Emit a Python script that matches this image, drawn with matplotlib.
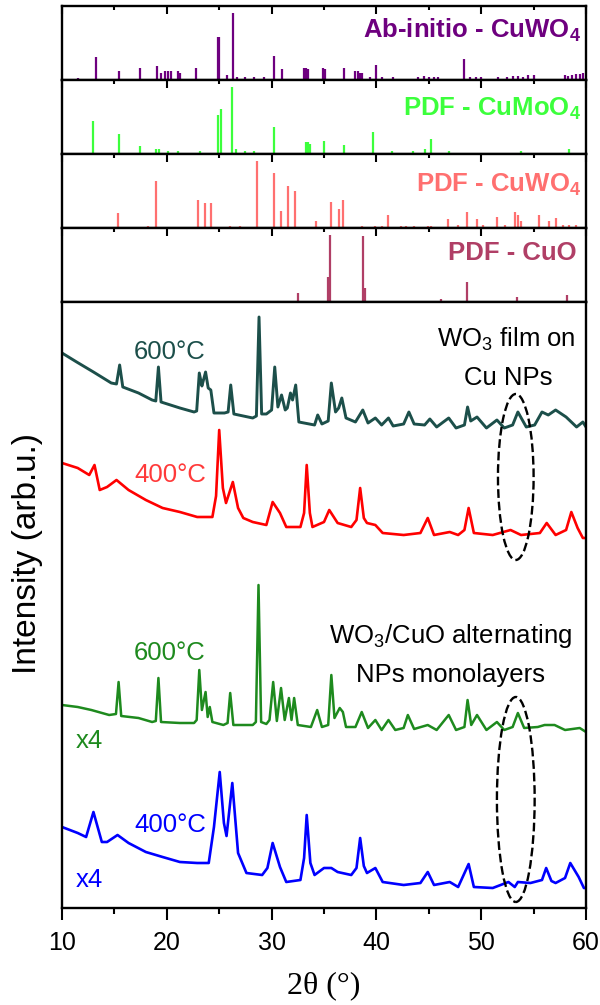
import matplotlib
matplotlib.use('Agg')
import matplotlib.pyplot as plt
from matplotlib.patches import Ellipse
from matplotlib.ticker import MultipleLocator

plt.rcParams['font.family'] = ['Liberation Sans', 'DejaVu Sans']
plt.rcParams['mathtext.fontset'] = 'custom'
plt.rcParams['mathtext.rm'] = 'Liberation Sans'
plt.rcParams['mathtext.it'] = 'Liberation Sans:italic'
plt.rcParams['mathtext.bf'] = 'Liberation Sans:bold'

# Reference stick patterns (2theta, relative intensity)
abinitio_pos = [11.5, 13.2, 15.4, 17.4, 19.1, 19.4, 19.8, 20.1, 20.4, 21.1, 21.3, 22.8,
                24.85, 25.0, 25.7, 26.3, 26.7, 27.5, 28.3, 29.3, 30.2, 31.0, 33.1, 33.3,
                33.5, 34.9, 35.1, 36.9, 38.0, 38.2, 38.4, 38.6, 39.4, 40.0, 40.5, 41.6,
                44.0, 44.5, 45.0, 45.5, 45.9, 48.4, 48.9, 49.5, 50.0, 51.6, 52.5, 53.0,
                53.5, 54.0, 54.5, 55.0, 58.0, 58.3, 58.7, 59.0, 59.4, 59.7]
abinitio_int = [3, 34, 13, 18, 21, 10, 13, 13, 13, 13, 10, 18,
                64, 64, 8, 100, 5, 5, 5, 5, 36, 16, 18, 18,
                16, 18, 16, 18, 13, 13, 11, 10, 5, 23, 5, 4,
                5, 6, 5, 5, 5, 31, 5, 5, 4, 5, 5, 6,
                6, 5, 7, 7, 8, 6, 8, 9, 9, 10]

cumoo4_pos = [13.0, 15.4, 17.4, 19.0, 19.3, 20.1, 21.1, 23.2, 24.9, 25.15, 26.2, 26.6,
              27.5, 28.3, 30.2, 33.3, 33.5, 33.7, 35.0, 36.9, 39.7, 41.5, 43.5, 44.6,
              45.25, 46.9, 53.8, 58.4]
cumoo4_int = [49, 29, 12, 7, 7, 5, 5, 4, 58, 67, 100, 7,
              4, 4, 40, 18, 18, 15, 20, 13, 32, 4, 4, 7,
              22, 4, 4, 7]

cuwo4_pos = [15.3, 18.2, 19.0, 23.0, 23.6, 24.2, 26.0, 27.0, 28.65, 30.2, 30.9, 31.6,
             32.2, 34.2, 35.7, 36.4, 36.8, 38.6, 39.9, 40.5, 41.1, 42.3, 42.8, 43.6,
             44.9, 45.2, 46.8, 47.8, 48.6, 49.6, 50.2, 51.5, 52.3, 53.2, 53.5, 53.8,
             55.5, 56.5, 57.1, 57.8, 58.4, 59.0]
cuwo4_int = [23, 3, 70, 41, 37, 37, 3, 3, 100, 82, 26, 62,
             55, 11, 38, 28, 41, 3, 3, 3, 19, 3, 3, 3,
             3, 3, 13, 5, 24, 13, 5, 16, 5, 24, 20, 10,
             19, 10, 15, 5, 5, 5]

cuo_pos = [32.5, 35.4, 35.55, 38.7, 38.9, 46.2, 48.65, 51.3, 53.4, 56.7, 58.2]
cuo_int = [14, 37, 100, 98, 21, 4, 30, 2, 7, 2, 10]

# Measured patterns (2theta, intensity incl. stacking offset)
film600_x = [10.0, 11.4, 13.0, 14.7, 15.2, 15.5, 15.8, 17.3, 18.6, 18.95, 19.2, 19.45,
             21.25, 22.6, 22.85, 23.1, 23.35, 23.45, 23.7, 23.95, 24.2, 24.5, 25.5, 25.85,
             26.1, 26.4, 28.2, 28.55, 28.8, 29.05, 29.5, 30.0, 30.3, 30.6, 30.95, 31.3,
             31.5, 31.8, 32.0, 32.3, 32.6, 34.1, 34.4, 34.8, 35.4, 35.7, 36.1, 36.4,
             36.7, 37.1, 38.0, 38.7, 39.2, 39.9, 40.5, 41.15, 41.6, 42.6, 43.1, 43.6,
             44.6, 45.1, 45.75, 46.9, 47.6, 48.4, 48.7, 49.0, 49.6, 50.5, 51.5, 52.2,
             53.0, 53.5, 54.3, 55.1, 55.8, 56.4, 57.1, 58.1, 59.1, 59.7, 60.0]
film600_y = [555, 546, 536, 525, 524, 543, 521, 515, 508, 507, 541, 506,
             500, 496, 497, 535, 522, 526, 536, 520, 518, 495, 495, 496,
             523, 494, 490, 492, 591, 494, 494, 498, 541, 501, 513, 498,
             500, 515, 508, 523, 486, 483, 493, 484, 487, 525, 496, 500,
             510, 490, 486, 498, 485, 490, 483, 490, 482, 484, 496, 484,
             483, 489, 481, 490, 480, 483, 501, 487, 491, 480, 488, 480,
             483, 496, 481, 483, 496, 493, 498, 491, 481, 486, 481]

film400_x = [10.0, 11.5, 12.6, 13.1, 13.6, 14.3, 15.2, 16.35, 18.0, 19.6, 21.25, 22.9,
             24.35, 24.7, 25.0, 25.35, 25.65, 26.3, 26.8, 27.3, 28.2, 29.5, 30.1, 30.8,
             31.4, 32.75, 33.1, 33.35, 33.65, 33.9, 35.0, 35.5, 36.3, 37.6, 38.1, 38.45,
             38.8, 39.1, 39.9, 40.6, 42.6, 44.2, 44.9, 45.5, 47.0, 47.8, 48.4, 48.8,
             49.3, 51.1, 52.8, 53.8, 55.6, 56.25, 57.1, 58.1, 58.6, 59.2, 59.7, 60.0]
film400_y = [445, 440, 433, 443, 418, 421, 428, 418, 408, 400, 396, 391,
             391, 412, 478, 420, 405, 426, 400, 390, 386, 383, 406, 395,
             381, 381, 395, 443, 395, 381, 386, 398, 385, 381, 388, 420,
             390, 385, 383, 375, 373, 375, 390, 373, 376, 373, 378, 400,
             375, 373, 378, 373, 375, 385, 373, 378, 396, 380, 370, 370]

np600_x = [10.0, 11.5, 12.8, 14.5, 15.15, 15.4, 15.65, 17.3, 18.6, 18.95, 19.2, 19.45,
           21.25, 22.6, 22.85, 23.1, 23.35, 23.7, 23.9, 24.1, 24.35, 25.4, 25.8, 26.05,
           26.35, 28.2, 28.5, 28.75, 29.0, 29.5, 29.8, 30.15, 30.5, 30.9, 31.25, 31.65,
           31.9, 32.15, 32.5, 33.75, 34.35, 34.8, 35.4, 35.7, 36.0, 36.5, 36.8, 37.1,
           38.0, 38.6, 39.2, 39.9, 40.5, 41.15, 41.8, 42.6, 43.0, 43.6, 44.9, 45.75,
           46.9, 47.6, 48.4, 48.7, 49.05, 49.6, 50.5, 51.5, 52.2, 53.0, 53.5, 54.1,
           55.4, 56.05, 57.0, 58.0, 59.4, 60.0]
np600_y = [203, 201, 198, 193, 194, 226, 192, 190, 186, 187, 230, 186,
           185, 185, 188, 238, 198, 216, 191, 201, 186, 183, 185, 215,
           183, 183, 186, 323, 186, 184, 188, 226, 187, 220, 188, 210,
           188, 210, 183, 181, 198, 181, 183, 233, 190, 200, 196, 181,
           181, 196, 180, 188, 178, 188, 178, 180, 193, 179, 183, 178,
           193, 178, 181, 208, 183, 193, 178, 186, 178, 181, 195, 180,
           181, 183, 183, 178, 180, 176]

np400_x = [10.0, 11.5, 12.3, 13.0, 13.8, 14.3, 15.3, 16.35, 18.0, 19.6, 21.25, 22.9,
           24.0, 24.5, 25.05, 25.45, 25.7, 26.25, 26.8, 27.6, 29.1, 29.6, 30.1, 30.8,
           31.4, 32.75, 33.1, 33.35, 33.7, 34.1, 35.0, 35.7, 36.3, 37.6, 38.1, 38.45,
           38.8, 39.1, 39.9, 40.6, 42.6, 44.2, 44.9, 45.5, 47.0, 47.8, 48.8, 49.3,
           51.1, 52.6, 53.2, 53.5, 54.7, 55.8, 56.2, 56.7, 57.1, 58.0, 58.5, 59.3,
           59.8, 60.0]
np400_y = [81, 75, 71, 96, 66, 66, 73, 65, 56, 51, 46, 45,
           45, 81, 136, 85, 72, 125, 55, 35, 33, 40, 65, 41,
           26, 28, 50, 93, 45, 33, 40, 40, 36, 33, 40, 70,
           42, 35, 40, 26, 23, 25, 36, 23, 26, 21, 44, 21,
           20, 26, 21, 26, 25, 28, 40, 27, 25, 30, 45, 31,
           20, 20]

fig = plt.figure(figsize=(6, 10.05), dpi=100)
H = 1005.0
left = 62 / 600.0
width = 524 / 600.0
frame_lw = 1.7

# Stick panels, stacked on top
panels = [
    (abinitio_pos, abinitio_int, '#6E007F', r'Ab-initio - CuWO$_\mathbf{4}$', 0.575, 0.99),
    (cumoo4_pos, cumoo4_int, '#3CFF3C', r'PDF - CuMoO$_\mathbf{4}$', 0.51, 0.99),
    (cuwo4_pos, cuwo4_int, '#FF7070', r'PDF - CuWO$_\mathbf{4}$', 0.49, 0.99),
    (cuo_pos, cuo_int, '#B03F66', 'PDF - CuO', 0.57, 0.983),
]
edges = [6, 80, 154, 228, 302]
for i, (pos, inten, color, label, ty, tx) in enumerate(panels):
    top, bot = edges[i], edges[i + 1]
    ax = fig.add_axes([left, 1 - bot / H, width, (bot - top) / H])
    ax.vlines(pos, 0, inten, color=color, lw=1.6)
    ax.set_xlim(10, 60)
    ax.set_ylim(0, 110)
    ax.set_yticks([])
    ax.xaxis.set_major_locator(MultipleLocator(10))
    ax.xaxis.set_minor_locator(MultipleLocator(5))
    ax.tick_params(axis='x', which='both', direction='in', top=True, bottom=False,
                   labelbottom=False, width=1.5)
    ax.tick_params(axis='x', which='major', length=6)
    ax.tick_params(axis='x', which='minor', length=3)
    for sp in ax.spines.values():
        sp.set_linewidth(frame_lw)
    ax.text(tx, ty, label, transform=ax.transAxes, ha='right', va='baseline',
            color=color, fontsize=18.5, fontweight='bold')

# Main panel with measured patterns
ax = fig.add_axes([left, 1 - 908 / H, width, 606 / H])
ax.plot(film600_x, film600_y, color='#1C4F4A', lw=2.1)
ax.plot(film400_x, film400_y, color='#FF0000', lw=1.9)
ax.plot(np600_x, np600_y, color='#1E8A1E', lw=1.8)
ax.plot(np400_x, np400_y, color='#0000FF', lw=1.9)
ax.set_xlim(10, 60)
ax.set_ylim(0, 606)
ax.set_yticks([])
ax.xaxis.set_major_locator(MultipleLocator(10))
ax.xaxis.set_minor_locator(MultipleLocator(5))
ax.tick_params(axis='x', which='both', direction='out', width=1.5, labelsize=18, pad=8)
ax.tick_params(axis='x', which='major', length=8.5)
ax.tick_params(axis='x', which='minor', length=4)
for sp in ax.spines.values():
    sp.set_linewidth(frame_lw)

# Curve labels
fs = 18.5
ax.text(23.74, 549, '600°C', color='#1C4F4A', fontsize=fs, ha='right', va='baseline')
ax.text(23.74, 426, '400°C', color='#FF3A3A', fontsize=fs, ha='right', va='baseline')
ax.text(23.74, 248, '600°C', color='#1E8A1E', fontsize=fs, ha='right', va='baseline')
ax.text(23.74, 76, '400°C', color='#0000FF', fontsize=fs, ha='right', va='baseline')
ax.text(11.3, 160, 'x4', color='#1E8A1E', fontsize=fs, ha='left', va='baseline')
ax.text(11.3, 21, 'x4', color='#0000FF', fontsize=fs, ha='left', va='baseline')

ax.text(52.4, 561, r'WO$_3$ film on', fontsize=fs, ha='center', va='baseline')
ax.text(52.6, 523, 'Cu NPs', fontsize=fs, ha='center', va='baseline')
ax.text(47.1, 265, r'WO$_3$/CuO alternating', fontsize=fs, ha='center', va='baseline')
ax.text(47.1, 226, 'NPs monolayers', fontsize=fs, ha='center', va='baseline')

# Dashed ellipses around the ~53 deg region
for cy, h, w in [(431, 166, 3.4), (108.5, 205, 3.6)]:
    ax.add_patch(Ellipse((53.3, cy), w, h, fill=False, ls='--', lw=1.7,
                         color='black', zorder=5))

fig.text(28 / 600.0, 1 - 554 / H, 'Intensity (arb.u.)', rotation=90, fontsize=24,
         ha='center', va='center')
fig.text(324 / 600.0, 1 - 986 / H, '2θ (°)', fontsize=23, ha='center', va='center',
         family=['Liberation Serif', 'DejaVu Serif'])

fig.savefig('out.png', dpi=100)
